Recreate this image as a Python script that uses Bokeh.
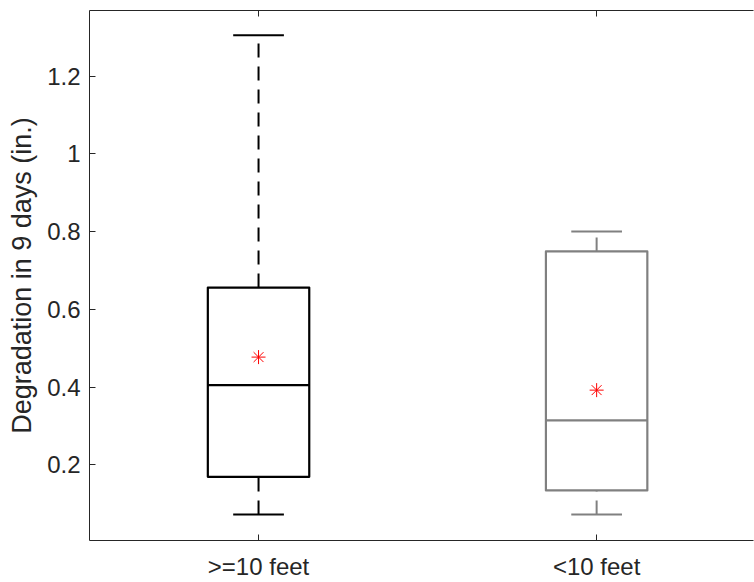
from bokeh.plotting import figure
from bokeh.models import LinearAxis, FixedTicker, Range1d, ColumnDataSource, PrintfTickFormatter
from bokeh.embed import file_html
from bokeh.resources import INLINE

# ---- data ----
categories = [">=10 feet", "<10 feet"]
lower_whisker = [0.072, 0.072]
q1 = [0.169, 0.134]
median = [0.405, 0.314]
q3 = [0.656, 0.749]
upper_whisker = [1.305, 0.800]
mean_values = [0.477, 0.392]
y_ticks = [0.2, 0.4, 0.6, 0.8, 1.0, 1.2]
y_label = "Degradation in 9 days (in.)"

# ---- styling ----
box_colors = ["#000000", "#808080"]
half_box = 0.15
half_cap = 0.075
FONT = "Liberation Sans"
AX = "#262626"

xs = [i + 1 for i in range(len(categories))]
src = ColumnDataSource(dict(
    x=xs,
    left=[x - half_box for x in xs],
    right=[x + half_box for x in xs],
    cap_l=[x - half_cap for x in xs],
    cap_r=[x + half_cap for x in xs],
    lw=lower_whisker, q1=q1, med=median, q3=q3, uw=upper_whisker,
    mean=mean_values, color=box_colors,
))

p = figure(width=754, height=582, output_backend="svg", toolbar_location=None,
           x_range=Range1d(0.5, 2.464), y_range=Range1d(0.005, 1.369),
           x_axis_location=None, y_axis_location=None,
           min_border_left=89, min_border_right=1, min_border_top=10, min_border_bottom=40)
p.outline_line_color = None
p.xgrid.visible = False
p.ygrid.visible = False
p.background_fill_color = "white"
p.border_fill_color = "white"

# whiskers (dashed)
p.segment(x0="x", y0="q3", x1="x", y1="uw", source=src, line_color="color",
          line_width=2, line_dash="14 9")
p.segment(x0="x", y0="lw", x1="x", y1="q1", source=src, line_color="color",
          line_width=2, line_dash="14 9")
# caps
p.segment(x0="cap_l", y0="uw", x1="cap_r", y1="uw", source=src, line_color="color", line_width=2)
p.segment(x0="cap_l", y0="lw", x1="cap_r", y1="lw", source=src, line_color="color", line_width=2)
# boxes
p.quad(left="left", right="right", bottom="q1", top="q3", source=src,
       fill_color=None, line_color="color", line_width=2.2, line_join="round")
# median
p.segment(x0="left", y0="med", x1="right", y1="med", source=src, line_color="color", line_width=2.2)
# mean
p.scatter(x="x", y="mean", source=src, marker="asterisk", size=14,
          line_color="#ff0000", line_width=1)

# axes
def style(ax):
    ax.axis_line_color = AX
    ax.axis_line_width = 1
    ax.major_tick_line_color = AX
    ax.major_tick_in = 6
    ax.major_tick_out = 0
    ax.minor_tick_line_color = None
    ax.major_label_text_font = FONT
    ax.major_label_text_color = AX
    ax.major_label_text_font_size = "24px"

left = LinearAxis(ticker=FixedTicker(ticks=y_ticks), formatter=PrintfTickFormatter(format="%g"),
                  axis_label=y_label)
style(left)
left.major_label_standoff = 9
left.axis_label_text_font = FONT
left.axis_label_text_font_size = "27px"
left.axis_label_text_font_style = "normal"
left.axis_label_text_color = AX
left.axis_label_standoff = 7
p.add_layout(left, "left")

bottom = LinearAxis(ticker=FixedTicker(ticks=xs),
                    major_label_overrides={x: c for x, c in zip(xs, categories)})
style(bottom)
bottom.major_label_standoff = 12
p.add_layout(bottom, "below")

# top frame edge with inward ticks, no labels
top = LinearAxis(ticker=FixedTicker(ticks=xs))
style(top)
top.major_label_text_color = None
top.major_label_text_font_size = "1px"
top.major_label_standoff = 0
p.add_layout(top, "above")

open("out.html", "w").write(file_html(p, INLINE))
